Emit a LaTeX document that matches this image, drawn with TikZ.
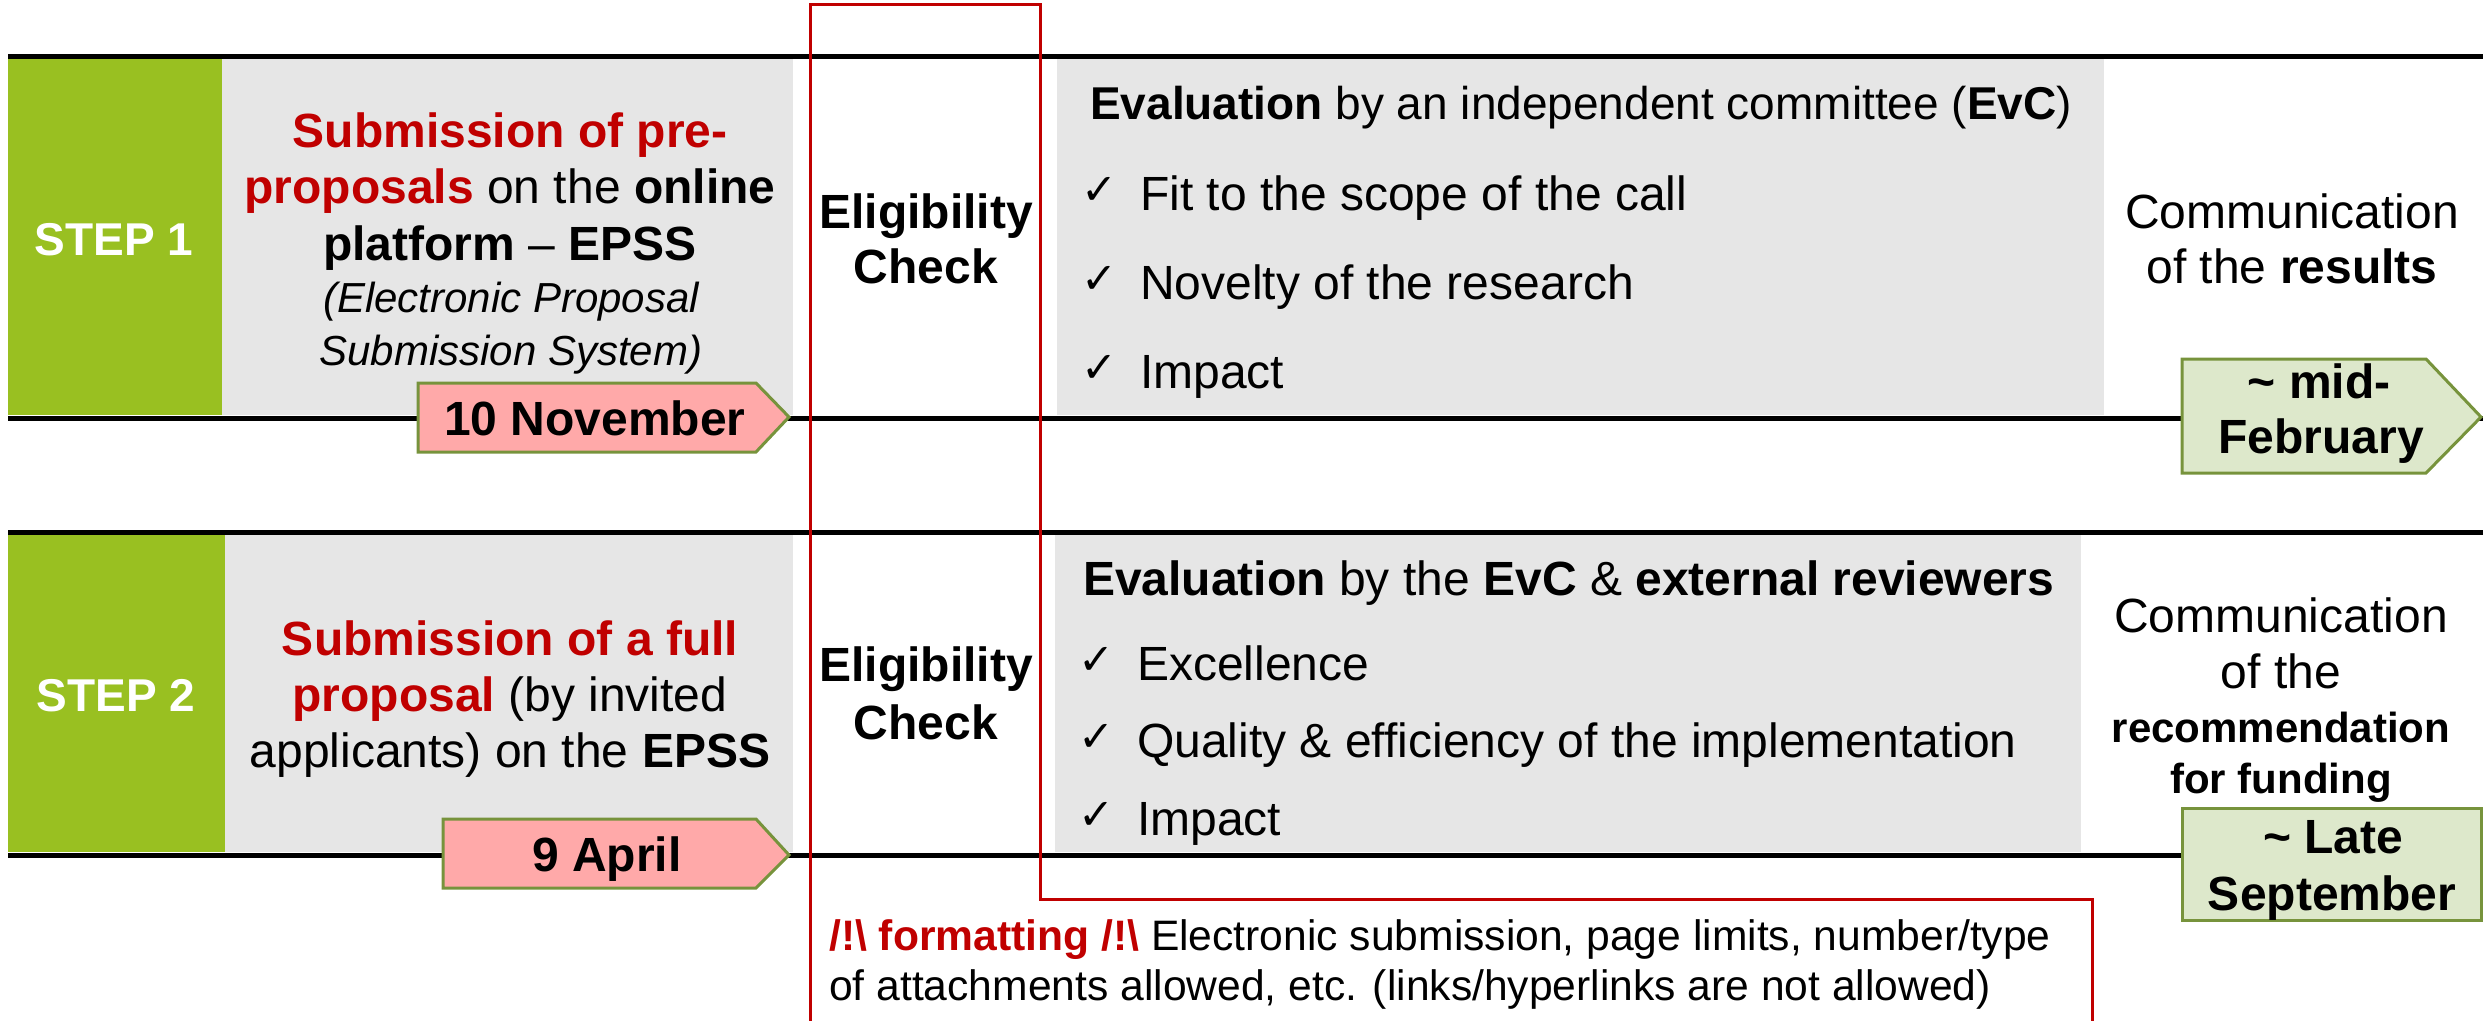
\documentclass[tikz,border=0pt]{standalone}
\usepackage{fontspec}
\setmainfont{Liberation Sans}
\newfontfamily\symfont{DejaVu Sans}
\definecolor{stepgreen}{HTML}{99C021}
\definecolor{boxgray}{HTML}{E6E6E6}
\definecolor{accred}{HTML}{C00000}
\definecolor{datepink}{HTML}{FFA9A9}
\definecolor{datelight}{HTML}{DDE8CB}
\definecolor{olive}{HTML}{77933C}
\begin{document}
\begin{tikzpicture}[x=1pt,y=-1pt,
  tl/.style={line width=5pt, black},
  txt/.style={anchor=base, inner sep=0pt, font=\fontsize{48}{56}\selectfont},
  txtw/.style={txt, anchor=base west},
  smalltxt/.style={txt, font=\fontsize{42}{50}\selectfont},
  smalltxtw/.style={smalltxt, anchor=base west},
  chk/.style={anchor=base west, inner sep=0pt, yshift=6pt, font=\symfont\fontsize{43}{48}\selectfont},
  datebox/.style={line width=3pt, draw=olive, fill=datepink},
  datelightbox/.style={line width=3pt, draw=olive, fill=datelight},
  redframe/.style={line width=3pt, draw=accred}
]
\useasboundingbox (0,0) rectangle (2483,1020);

% ---------- backgrounds ----------
\fill[stepgreen] (8,59) rectangle (222,415);
\fill[boxgray] (222,59) rectangle (793,415);
\fill[boxgray] (1057,59) rectangle (2104,415);

\fill[stepgreen] (8,534) rectangle (225,852);
\fill[boxgray] (225,534) rectangle (793,852);
\fill[boxgray] (1055,534) rectangle (2081,852);

% ---------- timeline lines ----------
\coordinate (t1a) at (8,56.5);  \coordinate (t1b) at (2483,56.5);
\coordinate (b1a) at (8,418);   \coordinate (b1b) at (2483,418);
\coordinate (t2a) at (8,532);   \coordinate (t2b) at (2483,532);
\coordinate (b2a) at (8,855);   \coordinate (b2b) at (2483,855);
\draw[tl] (t1a) -- (t1b);
\draw[tl] (b1a) -- (b1b);
\draw[tl] (t2a) -- (t2b);
\draw[tl] (b2a) -- (b2b);

% ---------- STEP 1 ----------
\node[txt, text=white, font=\bfseries\fontsize{46}{54}\selectfont] (step1) at (114,255) {STEP 1};

\node[txt] (s1a) at (510,147) {\textcolor{accred}{\bfseries Submission of pre-}};
\node[txt] (s1b) at (510,203) {\textcolor{accred}{\bfseries proposals} on the \textbf{online}};
\node[txt] (s1c) at (510,260) {\textbf{platform} – \textbf{EPSS}};
\node[smalltxt, font=\itshape\fontsize{42}{50}\selectfont] (s1d) at (511,312) {(Electronic Proposal};
\node[smalltxt, font=\itshape\fontsize{42}{50}\selectfont] (s1e) at (511,365) {Submission System)};

\node[txt, font=\bfseries\fontsize{48}{56}\selectfont] (e1a) at (926,228) {Eligibility};
\node[txt, font=\bfseries\fontsize{48}{56}\selectfont] (e1b) at (926,283) {Check};

\node[txtw, font=\fontsize{46}{54}\selectfont] (v1h) at (1090,119) {\textbf{Evaluation} by an independent committee (\textbf{EvC})};
\node[chk] (c1a) at (1081,210) {✓};
\node[txtw] (v1a) at (1140,210) {Fit to the scope of the call};
\node[chk] (c1b) at (1081,299) {✓};
\node[txtw] (v1b) at (1140,299) {Novelty of the research};
\node[chk] (c1c) at (1081,388) {✓};
\node[txtw] (v1c) at (1140,388) {Impact};

\node[txt] (r1a) at (2292,228) {Communication};
\node[txt] (r1b) at (2292,283) {of the \textbf{results}};

% date boxes step 1
\draw[datebox] (418,383) -- (756,383) -- (789,417) -- (756,452) -- (418,452) -- cycle;
\node[txt, font=\bfseries\fontsize{48}{56}\selectfont] (d1) at (595,435) {10 November};

\draw[datelightbox] (2182,359) -- (2426,359) -- (2481,417) -- (2426,473) -- (2182,473) -- cycle;
\node[txt, font=\bfseries\fontsize{48}{56}\selectfont] (f1a) at (2319,398) {\char`\~{} mid-};
\node[txt, font=\bfseries\fontsize{48}{56}\selectfont] (f1b) at (2321,453) {February};

% ---------- STEP 2 ----------
\node[txt, text=white, font=\bfseries\fontsize{46}{54}\selectfont] (step2) at (116,711) {STEP 2};

\node[txt] (s2a) at (510,655) {\textcolor{accred}{\bfseries Submission of a full}};
\node[txt] (s2b) at (510,711) {\textcolor{accred}{\bfseries proposal} (by invited};
\node[txt] (s2c) at (510,767) {applicants) on the \textbf{EPSS}};

\node[txt, font=\bfseries\fontsize{48}{56}\selectfont] (e2a) at (926,681) {Eligibility};
\node[txt, font=\bfseries\fontsize{48}{56}\selectfont] (e2b) at (926,739) {Check};

\node[txtw] (v2h) at (1083,595) {\textbf{Evaluation} by the \textbf{EvC} \& \textbf{external reviewers}};
\node[chk] (c2a) at (1078,680) {✓};
\node[txtw] (v2a) at (1137,680) {Excellence};
\node[chk] (c2b) at (1078,757) {✓};
\node[txtw] (v2b) at (1137,757) {Quality \& efficiency of the implementation};
\node[chk] (c2c) at (1078,835) {✓};
\node[txtw] (v2c) at (1137,835) {Impact};

\node[txt] (r2a) at (2281,632) {Communication};
\node[txt] (r2b) at (2281,688) {of the};
\node[smalltxt, font=\bfseries\fontsize{42}{50}\selectfont] (r2c) at (2281,742) {recommendation};
\node[smalltxt, font=\bfseries\fontsize{42}{50}\selectfont] (r2d) at (2281,793) {for funding};

\draw[datebox] (443,819) -- (756,819) -- (789,855) -- (756,888) -- (443,888) -- cycle;
\node[txt, font=\bfseries\fontsize{48}{56}\selectfont] (d2) at (607,871) {9 April};

\draw[datelightbox] (2182,808) rectangle (2481,920);
\node[txt, font=\bfseries\fontsize{48}{56}\selectfont] (f2a) at (2333,853) {\char`\~{} Late};
\node[txt, font=\bfseries\fontsize{48}{56}\selectfont] (f2b) at (2332,910) {September};

% ---------- formatting note ----------
\node[smalltxtw, font=\fontsize{42.6}{50}\selectfont] (n1) at (829,950) {\textcolor{accred}{\bfseries /!\textbackslash{} formatting /!\textbackslash{}} Electronic submission, page limits, number/type};
\node[smalltxtw, font=\fontsize{42.6}{50}\selectfont] (n2) at (829,1000) {of attachments allowed, etc. (links/hyperlinks are not allowed)};

% ---------- red frame ----------
\draw[redframe] (810,1025) -- (810,4) -- (1040,4) -- (1040,899) -- (2092,899) -- (2092,1025);
\end{tikzpicture}
\end{document}
